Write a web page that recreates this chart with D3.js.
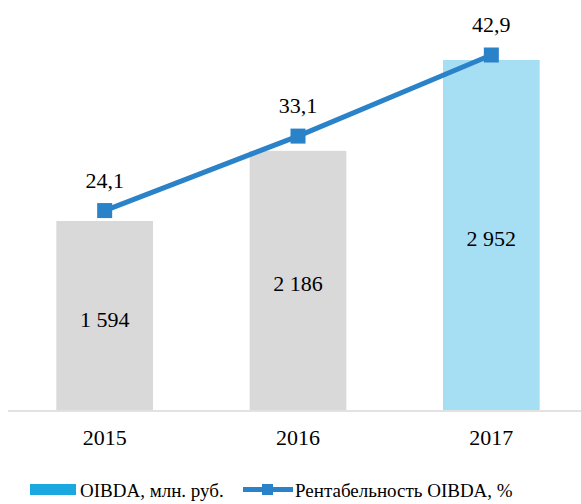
<!DOCTYPE html>
<html>
<head>
<meta charset="utf-8">
<script src="https://cdn.jsdelivr.net/npm/d3@7"></script>
<style>
  body { margin: 0; background: #fff; }
</style>
</head>
<body>
<svg id="chart" width="581" height="504"></svg>
<script>
// data
const years = ["2015", "2016", "2017"];
const oibda = [1594, 2186, 2952];
const margin = [24.1, 33.1, 42.9];
const barColors = ["#D9D9D9", "#D9D9D9", "#A6DEF3"];
const legendLabels = ["OIBDA, млн. руб.", "Рентабельность OIBDA, %"];

const FONT = '"Liberation Serif"';
const fmtBar = d => d3.format(",")(d).replace(/,/g, " ");
const fmtPct = d => d3.format(".1f")(d).replace(".", ",");

const svg = d3.select("#chart");
const baseY = 410;

const x = d3.scaleBand().domain(years).range([8, 588]).paddingInner(0.5).paddingOuter(0.25);
const yBar = d3.scaleLinear().domain([0, 2952]).range([baseY, 60]);
const yLine = d3.scaleLinear().domain([0, 42.9]).range([baseY, 55]);

// bars
svg.selectAll(".bar")
  .data(oibda)
  .enter()
  .append("rect")
  .attr("class", "bar")
  .attr("x", (d, i) => x(years[i]))
  .attr("y", d => yBar(d))
  .attr("width", x.bandwidth())
  .attr("height", d => baseY - yBar(d))
  .attr("fill", (d, i) => barColors[i]);

svg.selectAll(".bar-label")
  .data(oibda)
  .enter()
  .append("text")
  .attr("text-anchor", "middle")
  .style("font-family", FONT)
  .style("font-size", "22px")
  .attr("x", (d, i) => x(years[i]) + x.bandwidth() / 2)
  .attr("y", d => (yBar(d) + baseY) / 2 + 11)
  .text(fmtBar);

// axis
const axis = svg.append("g")
  .attr("transform", `translate(0,${baseY + 1})`)
  .call(d3.axisBottom(x).tickSize(0).tickPadding(18));
axis.attr("font-family", null);
axis.select(".domain").attr("stroke", "#D9D9D9").attr("stroke-width", 1.5).attr("d", "M8,0H581");
axis.selectAll("text")
  .style("font-family", FONT)
  .style("font-size", "22px")
  .attr("fill", "#000");

// line
const cx = (d, i) => x(years[i]) + x.bandwidth() / 2;
const line = d3.line().x(cx).y(d => yLine(d));
svg.append("path")
  .datum(margin)
  .attr("d", line)
  .attr("fill", "none")
  .attr("stroke", "#2A82C9")
  .attr("stroke-width", 5);

svg.selectAll(".marker")
  .data(margin)
  .enter()
  .append("rect")
  .attr("x", (d, i) => cx(d, i) - 7.5)
  .attr("y", d => yLine(d) - 7.5)
  .attr("width", 15)
  .attr("height", 15)
  .attr("fill", "#2A82C9");

svg.selectAll(".line-label")
  .data(margin)
  .enter()
  .append("text")
  .attr("text-anchor", "middle")
  .style("font-family", FONT)
  .style("font-size", "22px")
  .attr("x", cx)
  .attr("y", d => yLine(d) - 23)
  .text(fmtPct);

// legend
const lg = svg.append("g");
lg.append("rect").attr("x", 30).attr("y", 484).attr("width", 46).attr("height", 11).attr("fill", "#1BA8E0");
lg.append("text").attr("x", 80).attr("y", 497)
  .style("font-family", FONT).style("font-size", "19px").text(legendLabels[0]);
lg.append("line").attr("x1", 243).attr("x2", 293).attr("y1", 489.5).attr("y2", 489.5)
  .attr("stroke", "#2A82C9").attr("stroke-width", 5);
lg.append("rect").attr("x", 262).attr("y", 484).attr("width", 11).attr("height", 11).attr("fill", "#2A82C9");
lg.append("text").attr("x", 295).attr("y", 497)
  .style("font-family", FONT).style("font-size", "19px").text(legendLabels[1]);
</script>
</body>
</html>
